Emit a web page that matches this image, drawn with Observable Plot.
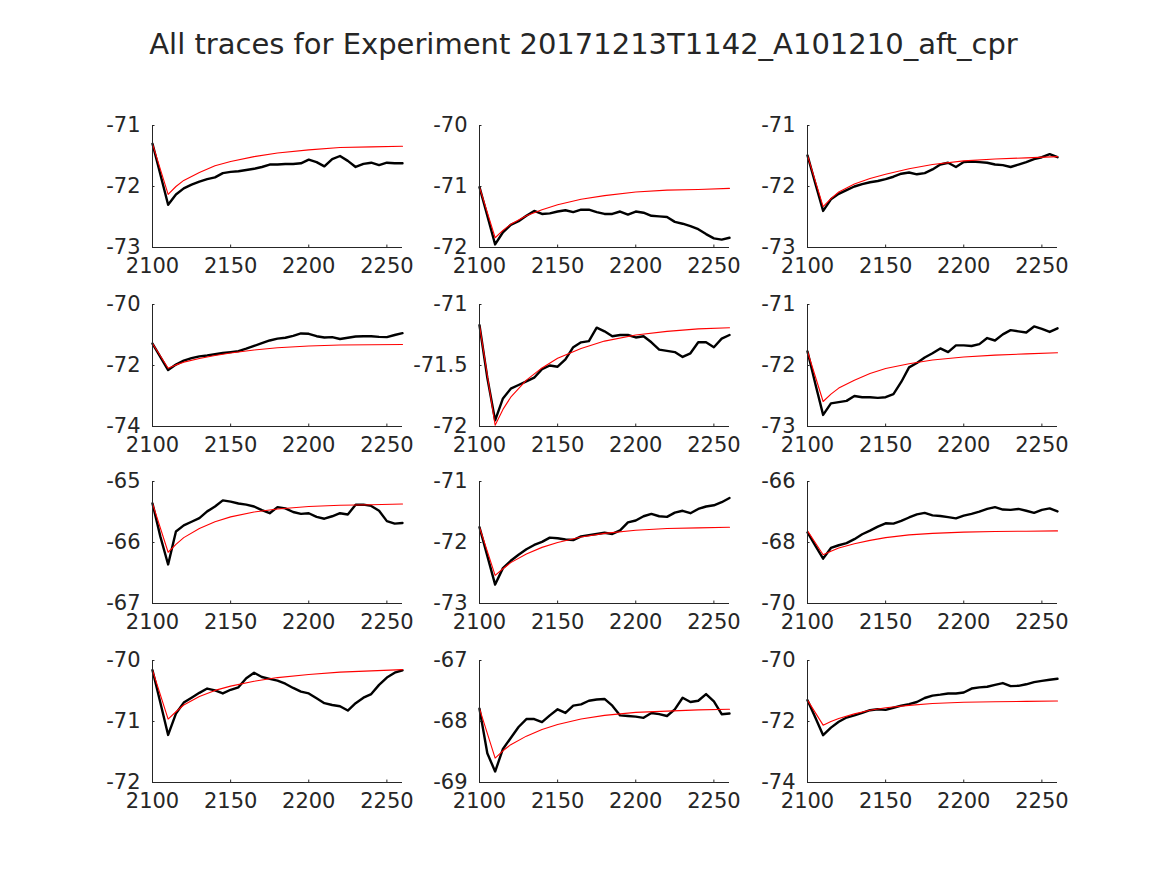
<!DOCTYPE html>
<html>
<head>
<meta charset="utf-8">
<script src="https://cdn.jsdelivr.net/npm/d3@7"></script>
<script src="https://cdn.jsdelivr.net/npm/@observablehq/plot@0.6"></script>
<style>
  html, body { margin: 0; padding: 0; background: #fff; }
  #fig { position: relative; width: 1167px; height: 875px; background: #fff; overflow: hidden; font-family: "DejaVu Sans", sans-serif; }
  #title { position: absolute; left: 0; width: 1167px; top: 30px; text-align: center; font-size: 29px; line-height: 1; color: #262626; white-space: nowrap; }
  .panel { position: absolute; }
</style>
</head>
<body>
<div id="fig">
  <div id="title">All traces for Experiment 20171213T1142_A101210_aft_cpr</div>
</div>
<script>
const titleText = "All traces for Experiment 20171213T1142_A101210_aft_cpr";
const xTicks = [2100, 2150, 2200, 2250];
const xDomain = [2100, 2260];
// x positions of the sampled black traces (every 5 time units)
const traceX = [2100,2105,2110,2115,2120,2125,2130,2135,2140,2145,2150,2155,2160,2165,2170,2175,2180,2185,2190,2195,2200,2205,2210,2215,2220,2225,2230,2235,2240,2245,2250,2255,2260];
// x positions of the sampled red fit curves
const fitX = [2100,2110,2115,2120,2130,2140,2150,2165,2180,2200,2220,2240,2260];

const trace1 = [-71.30,-71.80,-72.30,-72.13,-72.03,-71.97,-71.92,-71.88,-71.85,-71.78,-71.76,-71.75,-71.73,-71.71,-71.68,-71.64,-71.64,-71.63,-71.63,-71.62,-71.56,-71.60,-71.67,-71.55,-71.50,-71.58,-71.68,-71.63,-71.61,-71.65,-71.61,-71.62,-71.62];
const fit1 = [-71.30,-72.13,-72.00,-71.90,-71.77,-71.66,-71.59,-71.51,-71.45,-71.40,-71.36,-71.35,-71.34];
const yTicks1 = [-73,-72,-71];

const trace2 = [-71.01,-71.48,-71.95,-71.75,-71.63,-71.57,-71.48,-71.40,-71.45,-71.44,-71.41,-71.39,-71.42,-71.38,-71.38,-71.42,-71.45,-71.45,-71.41,-71.46,-71.41,-71.43,-71.48,-71.49,-71.50,-71.58,-71.61,-71.65,-71.70,-71.78,-71.85,-71.87,-71.84];
const fit2 = [-71.01,-71.84,-71.72,-71.62,-71.48,-71.38,-71.30,-71.21,-71.15,-71.09,-71.06,-71.05,-71.03];
const yTicks2 = [-72,-71,-70];

const trace3 = [-71.49,-71.95,-72.40,-72.21,-72.12,-72.06,-72.00,-71.96,-71.93,-71.91,-71.88,-71.84,-71.79,-71.77,-71.80,-71.78,-71.72,-71.64,-71.61,-71.68,-71.60,-71.59,-71.60,-71.61,-71.64,-71.65,-71.68,-71.64,-71.60,-71.55,-71.52,-71.47,-71.52];
const fit3 = [-71.49,-72.33,-72.20,-72.09,-71.96,-71.87,-71.80,-71.71,-71.64,-71.58,-71.55,-71.53,-71.51];
const yTicks3 = [-73,-72,-71];

const trace4 = [-71.28,-71.72,-72.15,-71.97,-71.84,-71.76,-71.70,-71.67,-71.63,-71.59,-71.56,-71.53,-71.45,-71.36,-71.27,-71.18,-71.12,-71.09,-71.03,-70.95,-70.96,-71.04,-71.08,-71.07,-71.13,-71.09,-71.05,-71.04,-71.04,-71.06,-71.07,-71.00,-70.94];
const fit4 = [-71.28,-72.09,-71.98,-71.89,-71.77,-71.67,-71.59,-71.49,-71.42,-71.36,-71.33,-71.32,-71.31];
const yTicks4 = [-74,-72,-70];

const trace5 = [-71.17,-71.60,-71.95,-71.77,-71.69,-71.66,-71.63,-71.60,-71.53,-71.50,-71.51,-71.45,-71.35,-71.31,-71.30,-71.19,-71.22,-71.26,-71.25,-71.25,-71.27,-71.26,-71.31,-71.37,-71.38,-71.39,-71.43,-71.40,-71.31,-71.31,-71.35,-71.28,-71.25];
const fit5 = [-71.17,-71.99,-71.86,-71.76,-71.62,-71.52,-71.44,-71.36,-71.30,-71.25,-71.22,-71.20,-71.19];
const yTicks5 = [-72,-71.5,-71];

const trace6 = [-71.77,-72.30,-72.81,-72.62,-72.60,-72.58,-72.50,-72.52,-72.52,-72.53,-72.52,-72.47,-72.27,-72.03,-71.96,-71.87,-71.80,-71.72,-71.78,-71.67,-71.67,-71.68,-71.65,-71.55,-71.59,-71.49,-71.42,-71.44,-71.46,-71.36,-71.40,-71.45,-71.39];
const fit6 = [-71.77,-72.59,-72.47,-72.37,-72.24,-72.13,-72.05,-71.97,-71.91,-71.86,-71.83,-71.81,-71.79];
const yTicks6 = [-73,-72,-71];

const trace7 = [-65.36,-65.90,-66.36,-65.82,-65.72,-65.66,-65.60,-65.49,-65.41,-65.31,-65.33,-65.36,-65.38,-65.41,-65.47,-65.52,-65.42,-65.44,-65.50,-65.53,-65.52,-65.58,-65.61,-65.57,-65.52,-65.54,-65.38,-65.38,-65.40,-65.48,-65.65,-65.69,-65.68];
const fit7 = [-65.36,-66.16,-66.03,-65.92,-65.77,-65.66,-65.58,-65.50,-65.45,-65.41,-65.39,-65.38,-65.37];
const yTicks7 = [-67,-66,-65];

const trace8 = [-71.75,-72.22,-72.69,-72.42,-72.30,-72.20,-72.11,-72.04,-71.99,-71.92,-71.93,-71.95,-71.96,-71.90,-71.88,-71.86,-71.84,-71.86,-71.80,-71.67,-71.64,-71.57,-71.53,-71.57,-71.58,-71.51,-71.48,-71.52,-71.45,-71.41,-71.39,-71.34,-71.27];
const fit8 = [-71.75,-72.54,-72.43,-72.33,-72.19,-72.08,-72.00,-71.91,-71.85,-71.80,-71.77,-71.76,-71.75];
const yTicks8 = [-73,-72,-71];

const trace9 = [-67.67,-68.10,-68.53,-68.18,-68.09,-68.02,-67.89,-67.73,-67.61,-67.48,-67.37,-67.38,-67.29,-67.18,-67.08,-67.03,-67.11,-67.13,-67.17,-67.21,-67.12,-67.06,-66.99,-66.90,-66.84,-66.92,-66.93,-66.90,-66.96,-67.03,-66.93,-66.88,-66.98];
const fit9 = [-67.62,-68.40,-68.29,-68.18,-68.04,-67.93,-67.84,-67.75,-67.70,-67.66,-67.64,-67.63,-67.62];
const yTicks9 = [-70,-68,-66];

const trace10 = [-70.16,-70.69,-71.22,-70.87,-70.69,-70.61,-70.53,-70.46,-70.49,-70.54,-70.48,-70.44,-70.29,-70.20,-70.27,-70.30,-70.33,-70.38,-70.45,-70.51,-70.54,-70.62,-70.70,-70.73,-70.75,-70.82,-70.70,-70.61,-70.55,-70.40,-70.28,-70.20,-70.16];
const fit10 = [-70.16,-70.96,-70.84,-70.73,-70.59,-70.49,-70.42,-70.34,-70.28,-70.23,-70.19,-70.17,-70.15];
const yTicks10 = [-72,-71,-70];

const trace11 = [-67.79,-68.52,-68.82,-68.45,-68.27,-68.09,-67.96,-67.96,-68.01,-67.90,-67.80,-67.86,-67.74,-67.72,-67.66,-67.64,-67.63,-67.74,-67.90,-67.91,-67.92,-67.94,-67.86,-67.88,-67.91,-67.80,-67.61,-67.68,-67.66,-67.55,-67.67,-67.88,-67.87];
const fit11 = [-67.79,-68.60,-68.48,-68.38,-68.24,-68.13,-68.05,-67.96,-67.90,-67.85,-67.83,-67.81,-67.80];
const yTicks11 = [-69,-68,-67];

const trace12 = [-71.30,-71.87,-72.45,-72.20,-72.01,-71.87,-71.80,-71.72,-71.63,-71.60,-71.62,-71.55,-71.48,-71.43,-71.36,-71.23,-71.15,-71.12,-71.08,-71.08,-71.05,-70.92,-70.88,-70.86,-70.80,-70.74,-70.84,-70.83,-70.78,-70.71,-70.67,-70.63,-70.60];
const fit12 = [-71.30,-72.12,-72.00,-71.90,-71.75,-71.63,-71.55,-71.47,-71.41,-71.37,-71.35,-71.34,-71.33];
const yTicks12 = [-74,-72,-70];

const traces = [trace1,trace2,trace3,trace4,trace5,trace6,trace7,trace8,trace9,trace10,trace11,trace12];
const fits = [fit1,fit2,fit3,fit4,fit5,fit6,fit7,fit8,fit9,fit10,fit11,fit12];
const yTicksAll = [yTicks1,yTicks2,yTicks3,yTicks4,yTicks5,yTicks6,yTicks7,yTicks8,yTicks9,yTicks10,yTicks11,yTicks12];

// layout of the axes boxes (pixels)
const colLeft = [152, 479, 807];
const rowTop = [125, 304, 481, 660];
const boxW = 250, boxH = 122;
const mL = 70, mR = 12, mT = 14, mB = 45;
const axisColor = "#262626";

const fig = document.getElementById("fig");
document.getElementById("title").textContent = titleText;

traces.forEach((tr, i) => {
  const r = Math.floor(i / 3), c = i % 3;
  const yt = yTicksAll[i];
  const lo = yt[0], hi = yt[yt.length - 1];
  const tickLenY = (hi - lo) * 0.02;
  const tickLenX = (xDomain[1] - xDomain[0]) * 0.01;
  const blackData = traceX.map((x, k) => ({x, y: tr[k]}));
  const redData = fitX.map((x, k) => ({x, y: fits[i][k]}));
  const chart = Plot.plot({
    width: boxW + mL + mR,
    height: boxH + mT + mB,
    marginLeft: mL, marginRight: mR, marginTop: mT, marginBottom: mB,
    style: {fontFamily: "DejaVu Sans, sans-serif", fontSize: "21px", color: axisColor, background: "transparent", overflow: "visible"},
    x: {domain: xDomain, ticks: xTicks, tickFormat: d => String(d), tickSize: 0, tickPadding: 11, label: null},
    y: {domain: [lo, hi], ticks: yt, tickFormat: d => String(d), tickSize: 0, tickPadding: 12, label: null},
    marks: [
      Plot.line(blackData, {x: "x", y: "y", stroke: "#000", strokeWidth: 2.4, strokeLinejoin: "round"}),
      Plot.line(redData, {x: "x", y: "y", stroke: "#ff0000", strokeWidth: 1.1}),
      Plot.ruleX([xDomain[0]], {stroke: axisColor, strokeWidth: 1}),
      Plot.ruleY([lo], {stroke: axisColor, strokeWidth: 1}),
      Plot.ruleX(xTicks, {y1: lo, y2: lo + tickLenY, stroke: axisColor}),
      Plot.ruleY(yt, {x1: xDomain[0], x2: xDomain[0] + tickLenX, stroke: axisColor})
    ]
  });
  const div = document.createElement("div");
  div.className = "panel";
  div.style.left = (colLeft[c] - mL) + "px";
  div.style.top = (rowTop[r] - mT) + "px";
  div.appendChild(chart);
  fig.appendChild(div);
});
</script>
</body>
</html>
